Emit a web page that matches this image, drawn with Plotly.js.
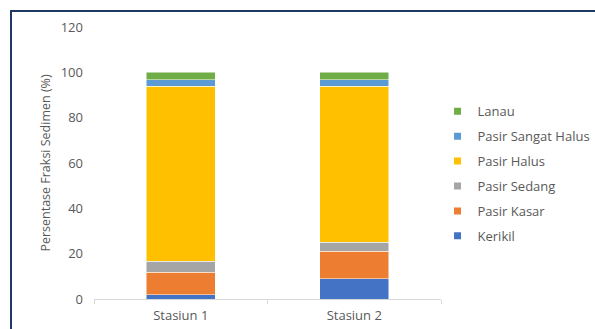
<!DOCTYPE html>
<html>
<head>
<meta charset="utf-8">
<script src="https://cdn.plot.ly/plotly-3.0.1.min.js"></script>
<style>
html,body{margin:0;padding:0;background:#fff;}
#wrap{position:relative;width:595px;height:329px;overflow:hidden;}
#chart{position:absolute;left:0;top:0;width:595px;height:329px;}
#frame{position:absolute;left:10px;top:10px;width:620px;height:340px;border-top:2px solid #1F3864;border-left:2px solid #1F3864;pointer-events:none;}
</style>
</head>
<body>
<div id="wrap"><div id="chart"></div><div id="frame"></div></div>
<script>
const categories = ["Stasiun 1", "Stasiun 2"];
const seriesNames = ["Kerikil", "Pasir Kasar", "Pasir Sedang", "Pasir Halus", "Pasir Sangat Halus", "Lanau"];
const kerikil = [1.9, 9.0];
const pasirKasar = [9.8, 12.0];
const pasirSedang = [4.9, 4.0];
const pasirHalus = [77.2, 68.8];
const pasirSangatHalus = [2.9, 2.9];
const lanau = [3.3, 3.3];
const colors = ["#4472C4", "#ED7D31", "#A5A5A5", "#FFC000", "#5B9BD5", "#70AD47"];
const seriesValues = [kerikil, pasirKasar, pasirSedang, pasirHalus, pasirSangatHalus, lanau];

const font = "'Open Sans', 'Noto Sans', sans-serif";
const traces = seriesNames.map((n, i) => ({
  type: "bar",
  name: n,
  x: categories,
  y: seriesValues[i],
  showlegend: false,
  marker: {color: colors[i], line: {color: "#ffffff", width: 0.5}},
  hoverinfo: "none"
}));
// legend entries (small square keys), top-to-bottom Lanau ... Kerikil
for (let i = seriesNames.length - 1; i >= 0; i--) {
  traces.push({
    type: "scatter", mode: "markers",
    name: seriesNames[i],
    x: [null], y: [null],
    legendgroup: "g" + i,
    marker: {color: colors[i], symbol: "square", size: 7},
    hoverinfo: "none"
  });
}

const layout = {
  width: 595, height: 329,
  margin: {l: 94, r: 154, t: 27, b: 30, autoexpand: false},
  barmode: "stack",
  bargap: 0.6,
  paper_bgcolor: "#ffffff",
  plot_bgcolor: "#ffffff",
  showlegend: true,
  legend: {
    x: 0.99, xanchor: "left", y: 0.745, yanchor: "top",
    traceorder: "grouped",
    tracegroupgap: 5,
    font: {family: font, size: 13, color: "#595959"},
    itemwidth: 30
  },
  xaxis: {
    type: "category",
    showline: true, linecolor: "#D9D9D9", linewidth: 1,
    ticks: "outside", tickson: "boundaries", ticklen: 4, tickcolor: "#D9D9D9",
    ticklabelstandoff: 4,
    tickfont: {family: font, size: 13, color: "#595959"},
    showgrid: false, zeroline: false
  },
  yaxis: {
    range: [0, 120], dtick: 20,
    showgrid: false, zeroline: false, showline: false,
    ticks: "", ticklabelstandoff: 10,
    tickfont: {family: font, size: 13, color: "#595959"},
    title: {text: "Persentase Fraksi Sedimen (%)", font: {family: font, size: 12.5, color: "#595959"}, standoff: 7}
  }
};

Plotly.newPlot("chart", traces, layout, {displayModeBar: false, staticPlot: true});
</script>
</body>
</html>
